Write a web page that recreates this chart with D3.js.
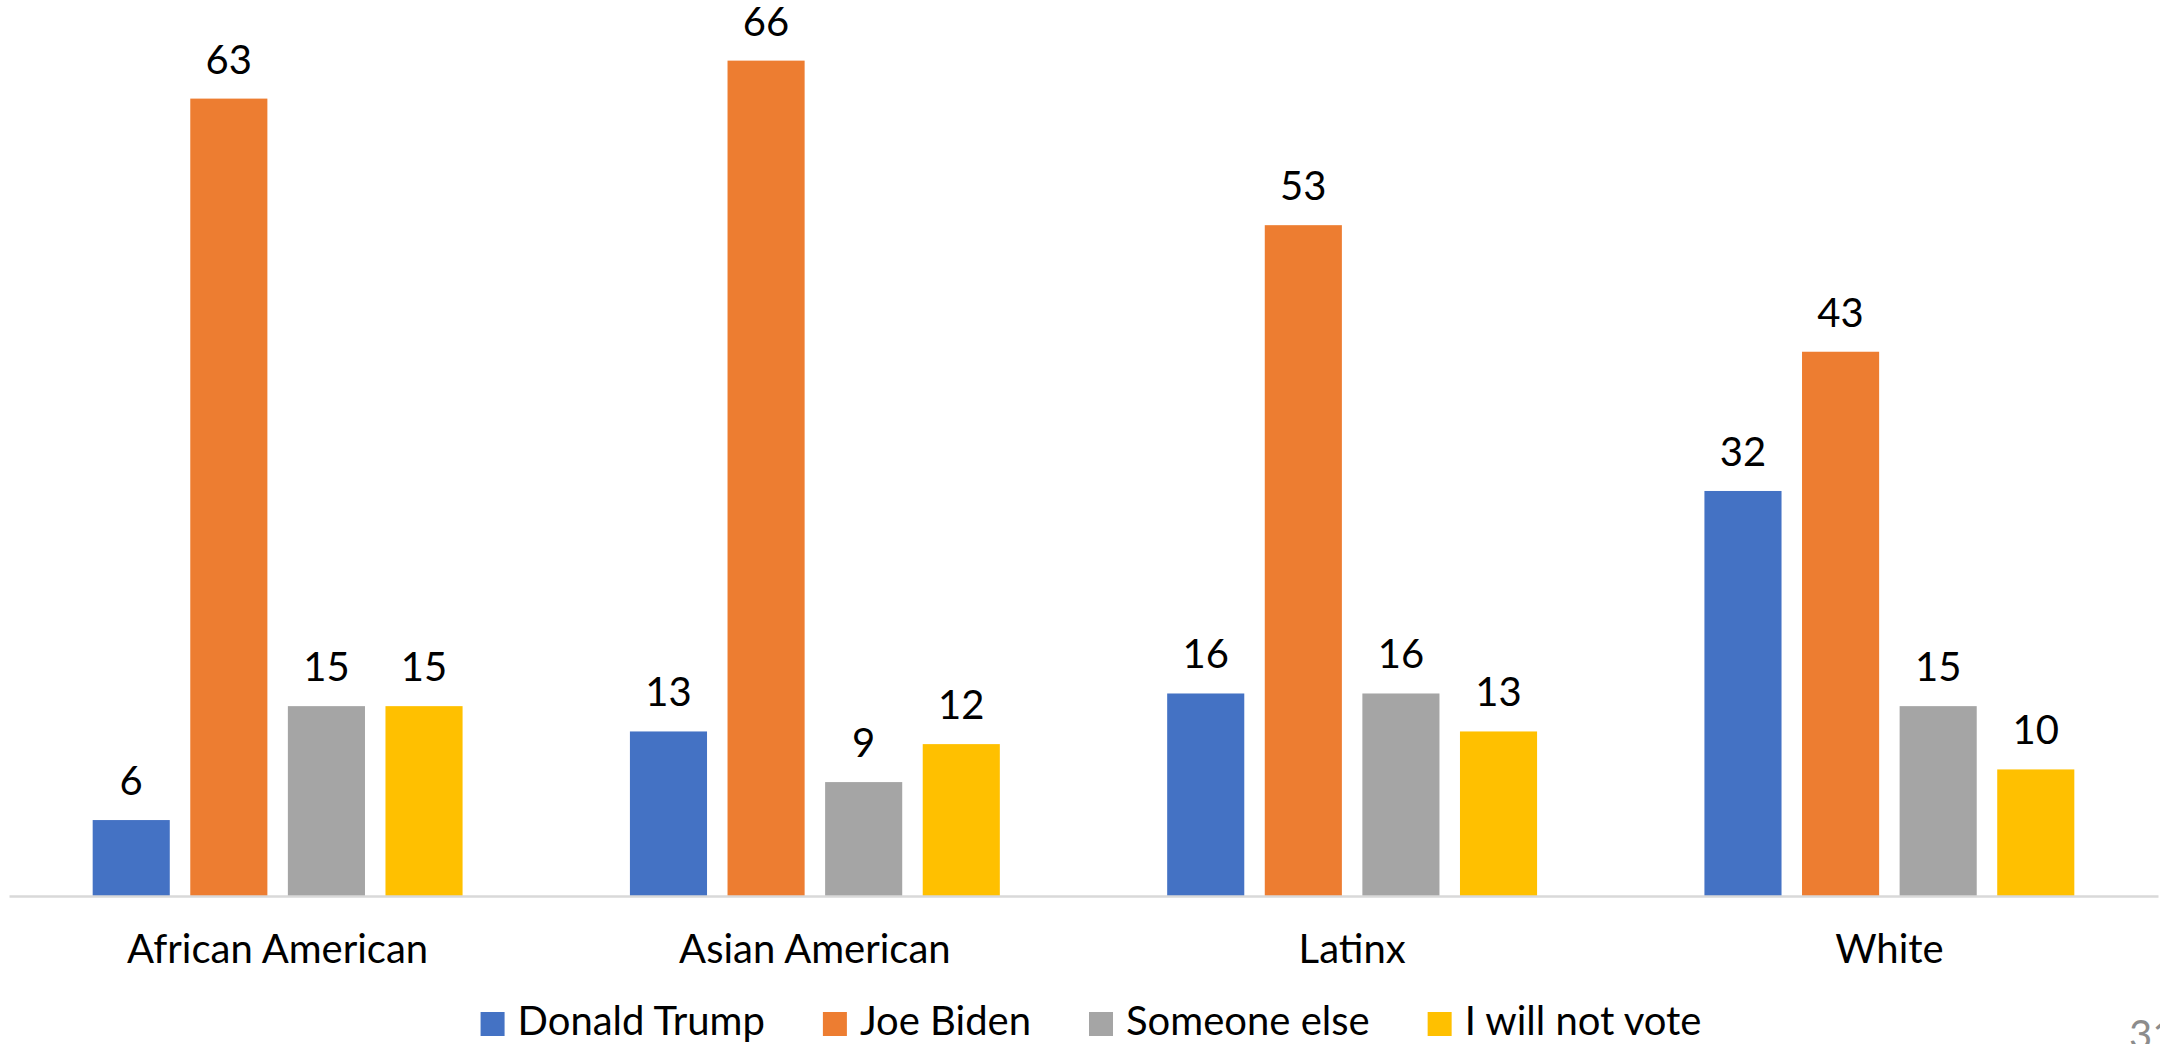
<!DOCTYPE html>
<html>
<head>
<meta charset="utf-8">
<script src="https://cdn.jsdelivr.net/npm/d3@7"></script>
<style>
  html, body { margin: 0; padding: 0; background: #ffffff; }
  svg { display: block; }
  text { font-family: Lato, "Open Sans", "Noto Sans", sans-serif; fill: #000; }
</style>
</head>
<body>
<svg id="chart" width="2160" height="1044"></svg>
<script>
// Voter preference by group (percent)
const categories = ["African American", "Asian American", "Latinx", "White"];
const seriesNames = ["Donald Trump", "Joe Biden", "Someone else", "I will not vote"];
const trump   = [6, 13, 16, 32];
const biden   = [63, 66, 53, 43];
const someone = [15, 9, 16, 15];
const noVote  = [15, 12, 13, 10];
const seriesColors = ["#4472C4", "#ED7D31", "#A5A5A5", "#FFC000"];
const yDomain = [0, 70];
const pageNumber = "31";

const seriesValues = [trump, biden, someone, noVote];
const rows = categories.map((c, i) => ({
  category: c,
  values: seriesNames.map((s, j) => ({ series: s, value: seriesValues[j][i], color: seriesColors[j] }))
}));

const svg = d3.select("#chart");
const plot = { left: 9, right: 2158, top: 10, bottom: 896 };
const fontSize = 40;

const x0 = d3.scaleBand()
  .domain(categories)
  .range([plot.left, plot.right])
  .paddingInner(0.3115)
  .paddingOuter(0.3115 / 2);

const x1 = d3.scaleBand()
  .domain(seriesNames)
  .range([0, x0.bandwidth()])
  .paddingInner(0.21)
  .paddingOuter(0);

const y = d3.scaleLinear().domain(yDomain).range([plot.bottom, plot.top]);

// Bars and value labels
const groups = svg.append("g").selectAll("g")
  .data(rows)
  .join("g")
  .attr("transform", d => `translate(${x0(d.category)},0)`);

groups.selectAll("rect")
  .data(d => d.values)
  .join("rect")
  .attr("x", d => x1(d.series))
  .attr("y", d => y(d.value))
  .attr("width", x1.bandwidth())
  .attr("height", d => y(0) - y(d.value))
  .attr("fill", d => d.color);

groups.selectAll("text.value")
  .data(d => d.values)
  .join("text")
  .attr("class", "value")
  .attr("x", d => x1(d.series) + x1.bandwidth() / 2)
  .attr("y", d => y(d.value) - 25)
  .attr("text-anchor", "middle")
  .style("font-size", fontSize + "px")
  .text(d => d.value);

// Category axis
const xAxis = svg.append("g")
  .attr("transform", `translate(0,${plot.bottom})`)
  .call(d3.axisBottom(x0).tickSize(0).tickPadding(0));
xAxis.select(".domain")
  .attr("stroke", "#D9D9D9")
  .attr("stroke-width", 2.5);
xAxis.selectAll(".tick text")
  .attr("y", 67)
  .attr("dy", 0)
  .attr("fill", "#000")
  .style("font-size", fontSize + "px")
  .style("font-family", "Lato, 'Open Sans', sans-serif");

// Legend, laid out from measured text widths and centred under the plot
const legend = svg.append("g");
const sq = 24, gapText = 13, gapItem = 58;
const items = legend.selectAll("g")
  .data(seriesNames.map((s, i) => ({ name: s, color: seriesColors[i] })))
  .join("g");
items.append("rect")
  .attr("width", sq).attr("height", sq)
  .attr("y", 1012)
  .attr("fill", d => d.color);
items.append("text")
  .attr("x", sq + gapText)
  .attr("y", 1035)
  .style("font-size", fontSize + "px")
  .text(d => d.name);

const widths = [];
items.each(function () {
  const tw = d3.select(this).select("text").node().getComputedTextLength();
  widths.push(sq + gapText + tw);
});
const total = d3.sum(widths) + gapItem * (widths.length - 1);
let start = 1091 - total / 2;
items.attr("transform", (d, i) => {
  const t = `translate(${start},0)`;
  start += widths[i] + gapItem;
  return t;
});

// Page number in the corner
svg.append("text")
  .attr("x", 2129)
  .attr("y", 1049)
  .style("font-size", "40px")
  .style("fill", "#8C8C8C")
  .text(pageNumber);
</script>
</body>
</html>
